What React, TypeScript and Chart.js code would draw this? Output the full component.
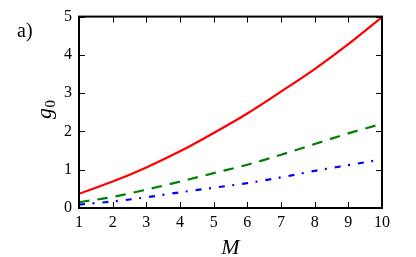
import React, { useEffect, useRef } from "react";
import { Chart, registerables } from "chart.js";

Chart.register(...registerables);

const massValues = [1, 2, 3, 4, 5, 6, 7, 8, 9, 10];
const redValues = [0.37, 0.69, 1.06, 1.48, 1.96, 2.47, 3.04, 3.63, 4.28, 4.99];
const greenValues = [0.15, 0.29, 0.48, 0.69, 0.91, 1.13, 1.39, 1.67, 1.95, 2.2];
const blueValues = [0.09, 0.17, 0.28, 0.41, 0.53, 0.65, 0.8, 0.97, 1.12, 1.27];
const xTickValues = [1, 2, 3, 4, 5, 6, 7, 8, 9, 10];
const yTickValues = [0, 1, 2, 3, 4, 5];
const panelLabel = "a)";
const xTitle = "M";
const yTitleMain = "g";
const yTitleSub = "0";

const SERIF = "'Liberation Serif', 'DejaVu Serif', serif";

const framePlugin = {
  id: "frame",
  afterDraw(chart: any) {
    const { ctx, chartArea: a, scales } = chart;
    const xs = scales.x;
    const ys = scales.y;
    ctx.save();
    ctx.strokeStyle = "#000";
    ctx.lineWidth = 1;
    const tl = 6;
    ctx.beginPath();
    xTickValues.forEach((v) => {
      const px = Math.round(xs.getPixelForValue(v)) + 0.5;
      ctx.moveTo(px, a.bottom);
      ctx.lineTo(px, a.bottom - tl);
      ctx.moveTo(px, a.top);
      ctx.lineTo(px, a.top + tl);
    });
    yTickValues.forEach((v) => {
      const py = Math.round(ys.getPixelForValue(v)) + 0.5;
      ctx.moveTo(a.left, py);
      ctx.lineTo(a.left + tl, py);
      ctx.moveTo(a.right, py);
      ctx.lineTo(a.right - tl, py);
    });
    ctx.stroke();
    ctx.lineWidth = 2;
    ctx.strokeRect(a.left, a.top, a.right - a.left, a.bottom - a.top);

    ctx.fillStyle = "#000";
    ctx.textBaseline = "alphabetic";
    ctx.font = `20px ${SERIF}`;
    ctx.textAlign = "left";
    ctx.fillText(panelLabel, 17, 37);

    ctx.font = `italic 22px ${SERIF}`;
    ctx.textAlign = "center";
    ctx.fillText(xTitle, (a.left + a.right) / 2, 254);

    ctx.save();
    ctx.translate(51, 119);
    ctx.rotate(-Math.PI / 2);
    ctx.textAlign = "left";
    ctx.font = `italic 22px ${SERIF}`;
    ctx.fillText(yTitleMain, 0, 0);
    const w = ctx.measureText(yTitleMain).width;
    ctx.font = `15px ${SERIF}`;
    ctx.fillText(yTitleSub, w + 0.5, 4);
    ctx.restore();

    ctx.restore();
  },
};

export default function App() {
  const ref = useRef<HTMLCanvasElement | null>(null);
  useEffect(() => {
    if (!ref.current) return;
    const mk = (vals: number[]) => massValues.map((x, i) => ({ x, y: vals[i] }));
    const chart = new Chart(ref.current, {
      type: "line",
      data: {
        datasets: [
          {
            data: mk(redValues),
            borderColor: "#ff0000",
            borderWidth: 2.2,
            pointRadius: 0,
            cubicInterpolationMode: "monotone",
          },
          {
            data: mk(greenValues),
            borderColor: "#008000",
            borderWidth: 2.2,
            borderDash: [10.5, 8],
            pointRadius: 0,
            cubicInterpolationMode: "monotone",
          },
          {
            data: mk(blueValues),
            borderColor: "#0000ff",
            borderWidth: 2.2,
            borderDash: [6, 7.5, 2, 8],
            pointRadius: 0,
            cubicInterpolationMode: "monotone",
          },
        ],
      },
      options: {
        responsive: false,
        animation: false,
        layout: { padding: { left: 0, top: 15, right: 34, bottom: 0 } },
        plugins: { legend: { display: false }, tooltip: { enabled: false } },
        scales: {
          x: {
            type: "linear",
            min: 1,
            max: 10,
            afterFit: (s: any) => {
              s.height = 49;
            },
            grid: { display: false, drawTicks: false },
            border: { display: false },
            ticks: {
              stepSize: 1,
              padding: 5,
              color: "#000",
              font: { family: SERIF, size: 16 },
              maxRotation: 0,
            },
          },
          y: {
            type: "linear",
            min: 0,
            max: 5,
            afterFit: (s: any) => {
              s.width = 79;
            },
            grid: { display: false, drawTicks: false },
            border: { display: false },
            ticks: {
              stepSize: 1,
              padding: 7,
              color: "#000",
              font: { family: SERIF, size: 16 },
            },
          },
        },
      },
      plugins: [framePlugin],
    } as any);
    return () => chart.destroy();
  }, []);
  return (
    <div style={{ position: "fixed", left: 0, top: 0, width: 416, height: 257, background: "#fff" }}>
      <canvas ref={ref} width={416} height={257} style={{ width: 416, height: 257, display: "block" }} />
    </div>
  );
}
